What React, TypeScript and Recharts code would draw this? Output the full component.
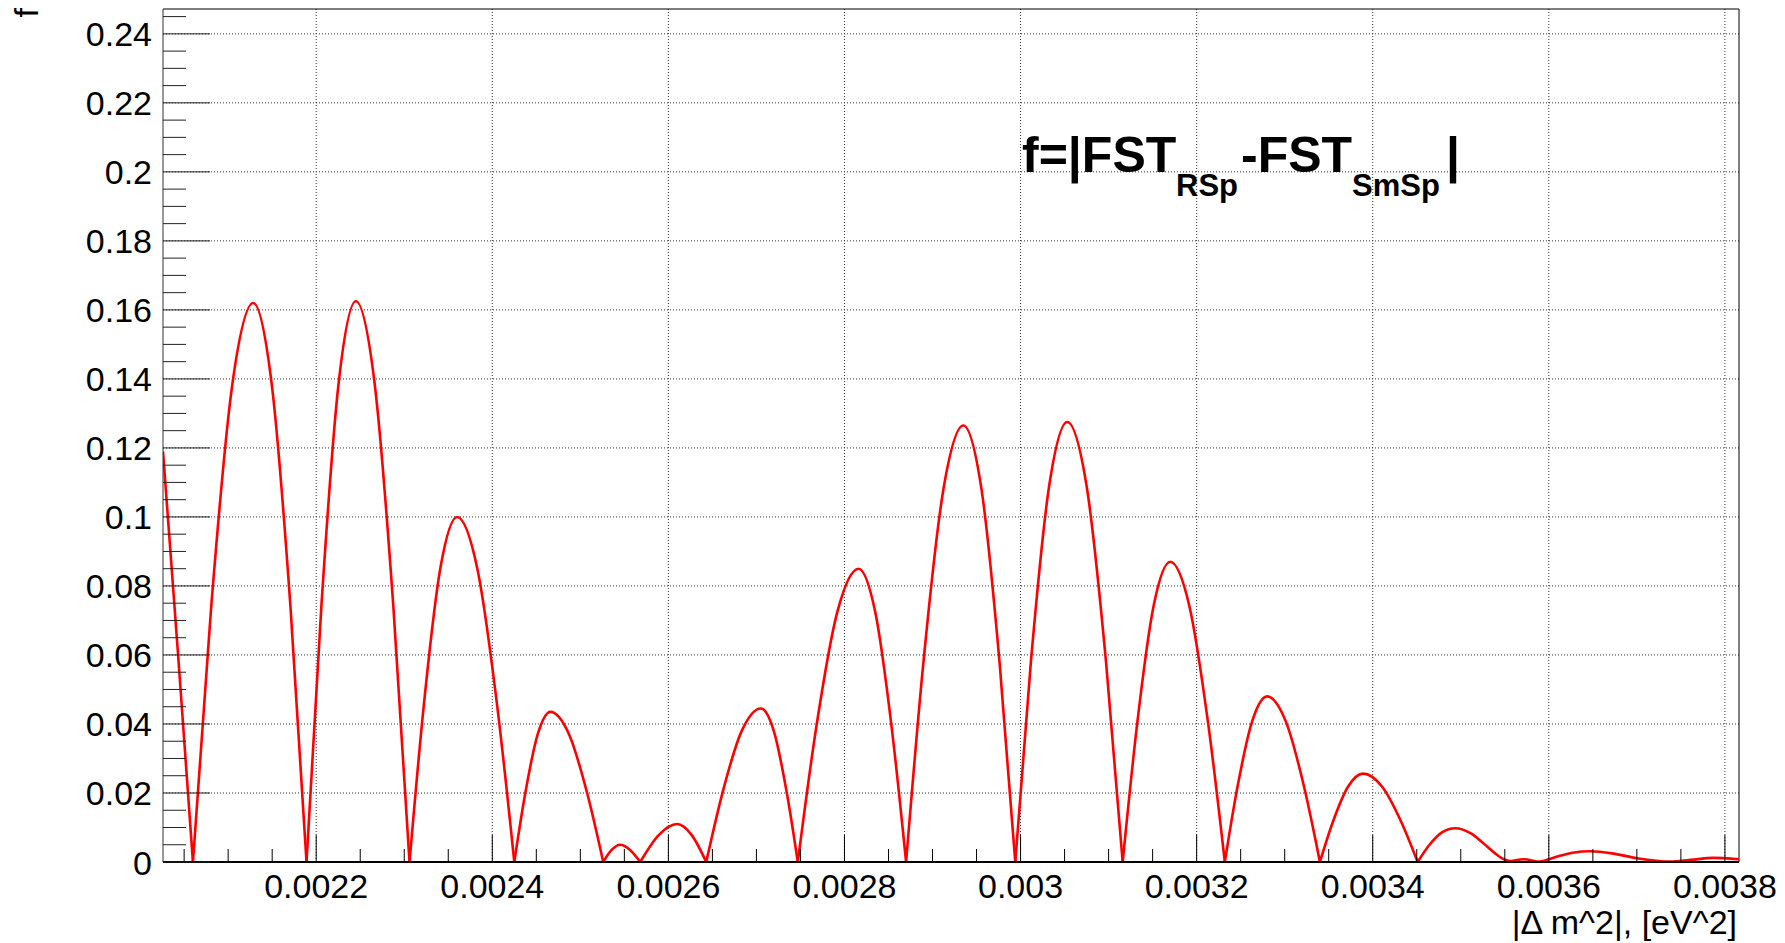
import { LineChart, Line, XAxis, YAxis, ReferenceLine } from "recharts";

// |dm^2| in eV^2 (zeros, lobe flanks and peaks)
const dm2 = [
  0.002026, 0.002043, 0.00206,
  0.0020806, 0.0021045, 0.0021285, 0.0021497, 0.0021709, 0.002189,
  0.0022058, 0.0022254, 0.002245, 0.0022664, 0.0022877, 0.002306,
  0.0023222, 0.0023411, 0.00236, 0.0023828, 0.0024055, 0.002425,
  0.0024373, 0.0024517, 0.002466, 0.002487, 0.002508, 0.002526,
  0.0025355, 0.002545, 0.0025565, 0.002568,
  0.002589, 0.00261, 0.0026265, 0.002643,
  0.0026616, 0.0026833, 0.002705, 0.0027197, 0.0027344, 0.002747,
  0.0027677, 0.0027919, 0.002816, 0.0028349, 0.0028538, 0.00287,
  0.0028895, 0.0029123, 0.002935, 0.0029557, 0.0029763, 0.002994,
  0.0030117, 0.0030324, 0.003053, 0.0030751, 0.0030971, 0.003116,
  0.0031322, 0.0031511, 0.00317, 0.0031917, 0.0032134, 0.003232,
  0.0032464, 0.0032632, 0.00328, 0.003301, 0.003322, 0.00334,
  0.0033547, 0.0033719, 0.003389, 0.0034107, 0.0034324, 0.003451,
  0.0034638, 0.0034786, 0.0034935, 0.003512, 0.0035256, 0.003539, 0.003549, 0.003556,
  0.003571, 0.00359, 0.003607, 0.003627, 0.003647, 0.003672,
  0.0037, 0.003738, 0.003765, 0.003786, 0.003816,
];

// f = |FST_RSp - FST_SmSp| at each point above
const fVal = [
  0.119, 0.0605, 0,
  0.0735, 0.138, 0.162, 0.138, 0.0735, 0,
  0.0738, 0.1386, 0.1625, 0.1386, 0.0738, 0,
  0.0454, 0.0853, 0.1, 0.0853, 0.0454, 0,
  0.0197, 0.0371, 0.0435, 0.0371, 0.0197, 0,
  0.0035, 0.005, 0.0035, 0,
  0.0078, 0.011, 0.0078, 0,
  0.0202, 0.038, 0.0445, 0.038, 0.0202, 0,
  0.0386, 0.0725, 0.085, 0.0725, 0.0386, 0,
  0.0574, 0.1079, 0.1265, 0.1079, 0.0574, 0,
  0.0579, 0.1088, 0.1275, 0.1088, 0.0579, 0,
  0.0395, 0.0742, 0.087, 0.0742, 0.0395, 0,
  0.0218, 0.0409, 0.048, 0.0409, 0.0218, 0,
  0.0116, 0.0218, 0.0256, 0.0218, 0.0116, 0,
  0.0048, 0.0086, 0.0098, 0.0082, 0.0054, 0.0025, 0.0008, 0.0003,
  0.0008, 0.0001, 0.0014, 0.0027, 0.0031, 0.0025,
  0.0011, 0.0001, 0.0007, 0.0012, 0.0008,
];

const xTickLabels = ["0.0022", "0.0024", "0.0026", "0.0028", "0.003", "0.0032", "0.0034", "0.0036", "0.0038"];
const yTickLabels = ["0", "0.02", "0.04", "0.06", "0.08", "0.1", "0.12", "0.14", "0.16", "0.18", "0.2", "0.22", "0.24"];

const X_MIN = 0.002026;
const X_MAX = 0.003816;
const Y_MAX = 0.2472;
const FONT = "'Liberation Sans', Arial, Helvetica, sans-serif";

// split the curve at its exact zeros so each lobe is its own smooth piece with a sharp cusp
const segments: { x: number; f: number }[][] = [];
let cur: { x: number; f: number }[] = [];
dm2.forEach((x, i) => {
  cur.push({ x, f: fVal[i] });
  if (fVal[i] === 0 && cur.length > 1) {
    segments.push(cur);
    cur = [{ x, f: 0 }];
  }
});
if (cur.length > 1) segments.push(cur);

// minor ticks every 0.00005 (x) and 0.005 (y), like ROOT's divisions
const xTicks = Array.from({ length: 36 }, (_, i) => +(0.00205 + i * 0.00005).toFixed(5));
const yTicks = Array.from({ length: 50 }, (_, i) => +(i * 0.005).toFixed(3));
const xMajor = new Map(xTickLabels.map((l) => [Math.round(Number(l) * 1e5), l]));
const yMajor = new Map(yTickLabels.map((l) => [Math.round(Number(l) * 1e3), l]));

function XTick({ x, y, payload }: any) {
  const label = xMajor.get(Math.round(payload.value * 1e5));
  return (
    <g>
      <line x1={x} x2={x} y1={y} y2={y - (label ? 27 : 13)} stroke="#000" strokeWidth={1} />
      {label && (
        <text x={x} y={y + 36} textAnchor="middle" fontSize={34} fontFamily={FONT} fill="#000">
          {label}
        </text>
      )}
    </g>
  );
}

function YTick({ x, y, payload }: any) {
  const label = yMajor.get(Math.round(payload.value * 1e3));
  return (
    <g>
      <line x1={x} x2={x + (label ? 47 : 23)} y1={y} y2={y} stroke="#222" strokeWidth={1} />
      {label && (
        <text x={x - 11} y={y + 12.5} textAnchor="end" fontSize={34} fontFamily={FONT} fill="#000">
          {label}
        </text>
      )}
    </g>
  );
}

export default function App() {
  return (
    <div style={{ position: "absolute", left: 0, top: 0, width: 1785, height: 943, background: "#fff" }}>
      <LineChart width={1785} height={943} margin={{ top: 9, right: 46, bottom: 0, left: 0 }}>
        {xTickLabels.map((l) => (
          <ReferenceLine key={"gx" + l} x={Number(l)} stroke="#333" strokeDasharray="1 2" />
        ))}
        {yTickLabels.slice(1).map((l) => (
          <ReferenceLine key={"gy" + l} y={Number(l)} stroke="#333" strokeDasharray="1 2" />
        ))}
        <ReferenceLine y={Y_MAX} stroke="#000" />
        <ReferenceLine x={X_MAX} stroke="#000" />
        <XAxis
          type="number"
          dataKey="x"
          domain={[X_MIN, X_MAX]}
          allowDataOverflow
          ticks={xTicks}
          interval={0}
          tickLine={false}
          tickSize={0}
          tickMargin={0}
          height={81}
          axisLine={{ stroke: "#000", strokeWidth: 2 }}
          tick={(p: any) => <XTick {...p} />}
        />
        <YAxis
          type="number"
          domain={[0, Y_MAX]}
          allowDataOverflow
          ticks={yTicks}
          interval={0}
          tickLine={false}
          tickSize={0}
          tickMargin={0}
          width={163}
          axisLine={{ stroke: "#333", strokeWidth: 1 }}
          tick={(p: any) => <YTick {...p} />}
        />
        {segments.map((seg, i) => (
          <Line
            key={i}
            data={seg}
            dataKey="f"
            type="monotone"
            stroke="#ff0000"
            strokeWidth={2.6}
            dot={false}
            activeDot={false}
            isAnimationActive={false}
          />
        ))}
      </LineChart>
      <svg
        width={1785}
        height={943}
        style={{ position: "absolute", left: 0, top: 0, pointerEvents: "none" }}
        fontFamily={FONT}
      >
        <text x={38} y={8} transform="rotate(-90 38 8)" textAnchor="end" fontSize={34} fill="#000">
          f
        </text>
        <text x={1737} y={934} textAnchor="end" fontSize={34} fill="#000">
          |Δ m^2|, [eV^2]
        </text>
        <text fontWeight="bold" fill="#000">
          <tspan x={1022} y={172} fontSize={50}>f=|FST</tspan>
          <tspan x={1176} y={196} fontSize={31}>RSp</tspan>
          <tspan x={1241} y={172} fontSize={50}>-FST</tspan>
          <tspan x={1352} y={196} fontSize={31}>SmSp</tspan>
          <tspan x={1446} y={172} fontSize={50}>|</tspan>
        </text>
      </svg>
    </div>
  );
}
